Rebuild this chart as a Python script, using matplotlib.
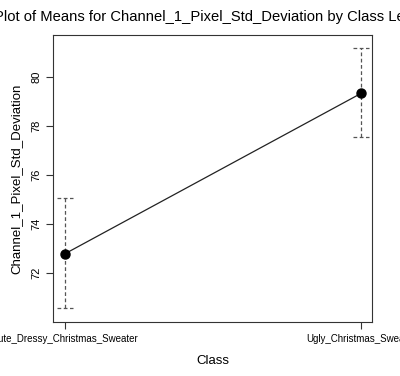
import matplotlib
matplotlib.use("Agg")
import matplotlib.pyplot as plt

classes = ["Cute_Dressy_Christmas_Sweater", "Ugly_Christmas_Sweater"]
means = [72.78, 79.32]
lower = [70.57, 77.55]
upper = [75.04, 81.18]

plt.rcParams["font.family"] = ["Liberation Sans", "DejaVu Sans"]

fig = plt.figure(figsize=(4.0, 3.76), dpi=100)
ax = fig.add_axes([0.1325, 0.1436, 0.7975, 0.7633])

xs = [1, 2]
ax.plot(xs, means, color="#222222", linewidth=0.9, zorder=2)
for x, lo, hi in zip(xs, lower, upper):
    ax.plot([x, x], [lo, hi], color="#555555", linewidth=0.9, linestyle=(0, (3, 2)), zorder=1)
    for y in (lo, hi):
        ax.plot([x - 0.027, x + 0.027], [y, y], color="#555555", linewidth=0.9,
                linestyle=(0, (3, 2)), zorder=1)
ax.plot(xs, means, "o", color="black", markersize=6.5, zorder=3)

ax.set_xlim(0.96, 2.037)
ax.set_ylim(70.0, 81.7)
ax.set_xticks(xs)
ax.set_xticklabels(classes, fontsize=7.05)
ax.set_yticks([72, 74, 76, 78, 80])
ax.set_yticklabels(["72", "74", "76", "78", "80"], fontsize=8, rotation=90, va="center")
ax.tick_params(direction="out", length=5, width=0.8, color="#333333", pad=3)
ax.tick_params(axis="x", pad=3.5)
for s in ax.spines.values():
    s.set_linewidth(0.8)
    s.set_color("#333333")

ax.set_xlabel("Class", fontsize=9.5, labelpad=8)
ax.set_ylabel("Channel_1_Pixel_Std_Deviation", fontsize=9.5, labelpad=7)
ax.set_title("Plot of Means for Channel_1_Pixel_Std_Deviation by Class Levels",
             fontsize=10.6, pad=10)

fig.savefig("out.png", dpi=100)
